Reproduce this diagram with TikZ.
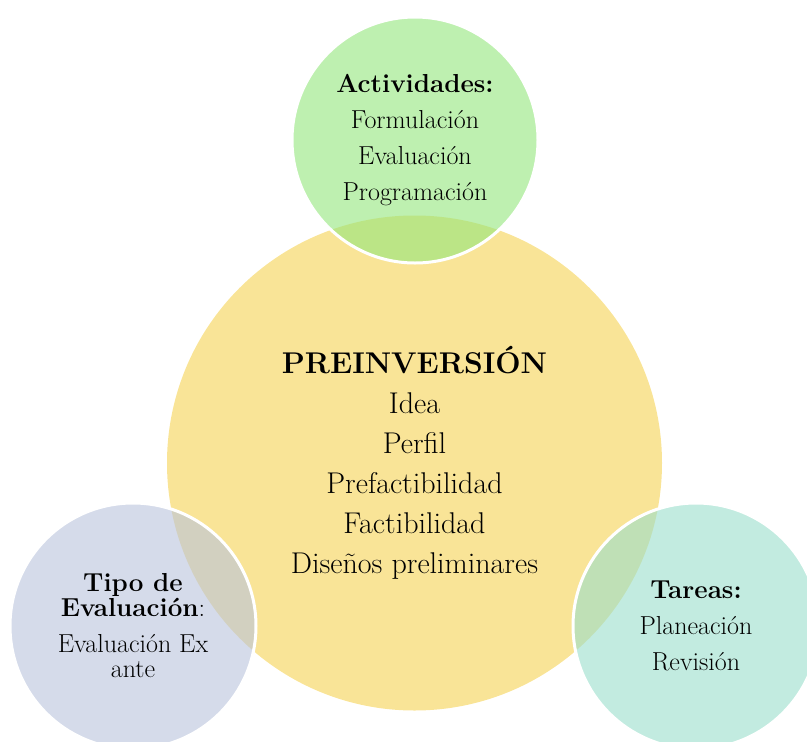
\documentclass[tikz,border=0pt]{standalone}
\usepackage{tikz}

\definecolor{amarillo}{RGB}{249,228,151}
\definecolor{verde}{RGB}{147,230,123}
\definecolor{azul}{RGB}{185,195,220}
\definecolor{turquesa}{RGB}{153,222,203}

\begin{document}
\begin{tikzpicture}[x=1pt, y=-1pt,
    fase/.style={circle, fill=amarillo, minimum size=495pt, inner sep=0pt,
        align=center, font=\fontsize{30}{40}\selectfont},
    etapa/.style={circle, draw=white, line width=3pt, fill opacity=0.6,
        text opacity=1, minimum size=246pt, inner sep=0pt,
        align=center, font=\fontsize{26}{36}\selectfont}]
\useasboundingbox (0,0) rectangle (807,742);
\node[fase] (preinv) at (414.5,463) {\textbf{PREINVERSIÓN}\\Idea\\Perfil\\Prefactibilidad\\Factibilidad\\Diseños preliminares};
\node[etapa, fill=verde] (activ) at (415,140) {\textbf{Actividades:}\\Formulación\\Evaluación\\Programación};
\node[etapa, fill=azul, font=\fontsize{26}{25}\selectfont] (tipo) at (133,626)
    {\textbf{Tipo de}\\\textbf{Evaluación}:\\[11pt]Evaluación Ex\\ante};
\node[etapa, fill=turquesa] (tareas) at (696,626) {\textbf{Tareas:}\\Planeación\\Revisión};
\end{tikzpicture}
\end{document}
